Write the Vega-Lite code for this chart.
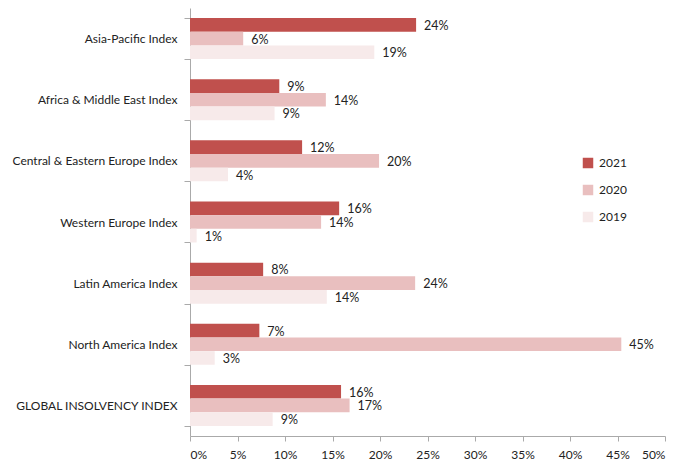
{
  "$schema": "https://vega.github.io/schema/vega-lite/v6.json",
  "width": 475,
  "height": 428,
  "autosize": {"type": "none"},
  "padding": {"left": 190, "top": 8, "right": 25, "bottom": 27},
  "background": "white",
  "config": {
    "view": {"stroke": null},
    "font": "Lato",
    "axis": {"labelFont": "Lato", "labelColor": "#222", "domainColor": "#aaa", "tickColor": "#aaa"}
  },
  "data": {
    "values": [
      {"region": "Asia-Pacific Index", "year": "2021", "value": 0.238},
      {"region": "Asia-Pacific Index", "year": "2020", "value": 0.056},
      {"region": "Asia-Pacific Index", "year": "2019", "value": 0.194},
      {"region": "Africa & Middle East Index", "year": "2021", "value": 0.094},
      {"region": "Africa & Middle East Index", "year": "2020", "value": 0.143},
      {"region": "Africa & Middle East Index", "year": "2019", "value": 0.089},
      {"region": "Central & Eastern Europe Index", "year": "2021", "value": 0.118},
      {"region": "Central & Eastern Europe Index", "year": "2020", "value": 0.199},
      {"region": "Central & Eastern Europe Index", "year": "2019", "value": 0.04},
      {"region": "Western Europe Index", "year": "2021", "value": 0.157},
      {"region": "Western Europe Index", "year": "2020", "value": 0.138},
      {"region": "Western Europe Index", "year": "2019", "value": 0.007},
      {"region": "Latin America Index", "year": "2021", "value": 0.077},
      {"region": "Latin America Index", "year": "2020", "value": 0.237},
      {"region": "Latin America Index", "year": "2019", "value": 0.144},
      {"region": "North America Index", "year": "2021", "value": 0.073},
      {"region": "North America Index", "year": "2020", "value": 0.454},
      {"region": "North America Index", "year": "2019", "value": 0.026},
      {"region": "GLOBAL INSOLVENCY INDEX", "year": "2021", "value": 0.159},
      {"region": "GLOBAL INSOLVENCY INDEX", "year": "2020", "value": 0.168},
      {"region": "GLOBAL INSOLVENCY INDEX", "year": "2019", "value": 0.087}
    ]
  },
  "encoding": {
    "y": {
      "field": "region", "type": "nominal", "sort": null, "title": null,
      "scale": {"paddingInner": 0.33, "paddingOuter": 0.165},
      "axis": {"labelFontSize": 12, "labelPadding": 7, "tickBand": "extent", "tickSize": 6, "domainColor": "#aaa"}
    },
    "yOffset": {"field": "year", "type": "nominal", "sort": ["2021", "2020", "2019"], "scale": {"paddingInner": 0}},
    "x": {
      "field": "value", "type": "quantitative",
      "scale": {"domain": [0, 0.5], "nice": false},
      "axis": {"format": ".0%", "title": null, "values": [0,0.05,0.1,0.15,0.2,0.25,0.3,0.35,0.4,0.45,0.5], "grid": false, "labelFontSize": 12, "tickSize": 5, "labelPadding": 8}
    }
  },
  "layer": [
    {
      "mark": {"type": "bar"},
      "encoding": {
        "color": {
          "field": "year", "type": "nominal",
          "sort": ["2021", "2020", "2019"],
          "scale": {"domain": ["2021", "2020", "2019"], "range": ["#c0504d", "#e9bfbf", "#f7eaea"]},
          "legend": {"title": null, "orient": "none", "legendX": 392, "legendY": 149, "symbolType": "square", "symbolSize": 110, "symbolStrokeWidth": 0, "labelFontSize": 12, "rowPadding": 15, "labelColor": "#222", "labelOffset": 5}
        }
      }
    },
    {
      "mark": {"type": "text", "align": "left", "dx": 8, "fontSize": 12.5, "color": "#222", "baseline": "middle", "dy": 1},
      "encoding": {"text": {"field": "value", "type": "quantitative", "format": ".0%"}}
    }
  ]
}
